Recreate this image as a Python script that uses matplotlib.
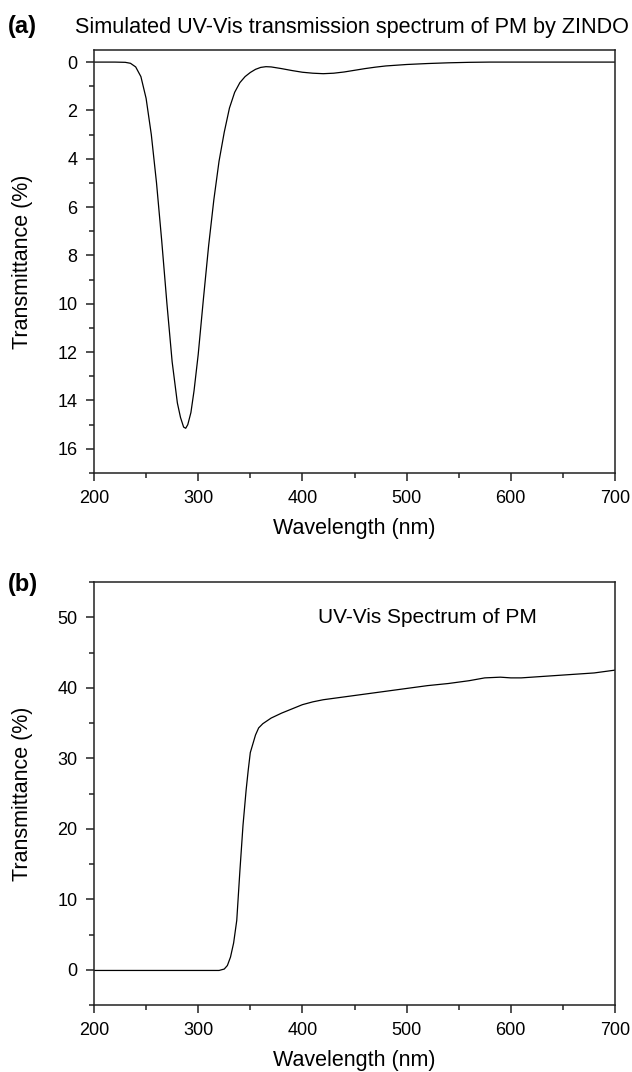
import matplotlib
matplotlib.use("Agg")
import matplotlib.pyplot as plt
from matplotlib.ticker import MultipleLocator

plt.rcParams['font.family'] = ['Liberation Sans', 'DejaVu Sans']

# (a) simulated ZINDO spectrum
wl_a = [200, 220, 230, 235, 240, 245, 250, 255, 260, 265, 270, 275, 280, 283, 286,
        288, 290, 293, 296, 300, 305, 310, 315, 320, 325, 330, 335, 340, 345, 350,
        355, 360, 365, 370, 380, 390, 400, 410, 420, 430, 440, 450, 460, 470, 480,
        490, 500, 520, 540, 560, 580, 600, 650, 700]
trans_a = [0.0, 0.0, 0.01, 0.05, 0.2, 0.6, 1.5, 3.0, 5.0, 7.4, 10.0, 12.4, 14.1, 14.7, 15.1,
           15.15, 15.0, 14.5, 13.6, 12.1, 9.8, 7.6, 5.7, 4.1, 2.9, 1.9, 1.25, 0.85, 0.6, 0.43,
           0.3, 0.22, 0.19, 0.2, 0.27, 0.35, 0.42, 0.46, 0.48, 0.46, 0.41, 0.34, 0.27, 0.21, 0.16,
           0.13, 0.1, 0.06, 0.03, 0.01, 0.0, 0.0, 0.0, 0.0]

# (b) measured spectrum
wl_b = [200, 250, 300, 320, 325, 328, 331, 334, 337, 340, 343, 346, 348, 350, 352,
        355, 358, 362, 366, 370, 380, 390, 400, 410, 420, 440, 460, 480, 500, 520,
        540, 560, 575, 590, 600, 610, 620, 640, 660, 680, 700]
trans_b = [-0.1, -0.1, -0.1, -0.1, 0.1, 0.6, 1.8, 3.8, 7.0, 14.0, 20.5, 25.5, 28.3, 30.8, 31.8,
           33.3, 34.3, 34.9, 35.3, 35.7, 36.4, 37.0, 37.6, 38.0, 38.3, 38.7, 39.1, 39.5, 39.9, 40.3,
           40.6, 41.0, 41.4, 41.5, 41.4, 41.4, 41.5, 41.7, 41.9, 42.1, 42.5]

W, H = 632, 1072
fig = plt.figure(figsize=(W / 100, H / 100), dpi=100)

def px_axes(left, top, right, bottom):
    return fig.add_axes([left / W, 1 - bottom / H, (right - left) / W, (bottom - top) / H])

def style(ax):
    for s in ax.spines.values():
        s.set_linewidth(1.1)
        s.set_color('#222222')
    ax.tick_params(which='both', direction='out', top=False, right=False,
                   labelsize=13, width=1.1, color='#222222', pad=6)
    ax.tick_params(which='major', length=6)
    ax.tick_params(which='minor', length=3.5)
    ax.set_xlim(200, 700)
    ax.xaxis.set_major_locator(MultipleLocator(100))
    ax.xaxis.set_minor_locator(MultipleLocator(50))
    ax.set_xlabel('Wavelength (nm)', fontsize=15.5)
    ax.set_ylabel('Transmittance (%)', fontsize=15.5, va='center')
    ax.xaxis.set_label_coords(0.5, -0.106)
    ax.yaxis.set_label_coords(-0.138, 0.5)

ax1 = px_axes(94, 50, 615, 473)
ax1.plot(wl_a, trans_a, color='black', lw=0.9)
ax1.set_ylim(17, -0.5)
ax1.yaxis.set_major_locator(MultipleLocator(2))
ax1.yaxis.set_minor_locator(MultipleLocator(1))
style(ax1)

ax2 = px_axes(94, 582, 615, 1005)
ax2.plot(wl_b, trans_b, color='black', lw=0.9)
ax2.set_ylim(-5, 55)
ax2.yaxis.set_major_locator(MultipleLocator(10))
ax2.yaxis.set_minor_locator(MultipleLocator(5))
style(ax2)
ax2.text(625, 50, 'UV-Vis Spectrum of PM', fontsize=15, ha='right', va='center')

fig.text(8 / W, 1 - 27 / H, '(a)', fontsize=17, fontweight='bold', ha='left', va='center')
fig.text(75 / W, 1 - 27 / H, 'Simulated UV-Vis transmission spectrum of PM by ZINDO',
         fontsize=15.6, ha='left', va='center')
fig.text(8 / W, 1 - 585 / H, '(b)', fontsize=17, fontweight='bold', ha='left', va='center')

fig.savefig('out.png', dpi=100)
